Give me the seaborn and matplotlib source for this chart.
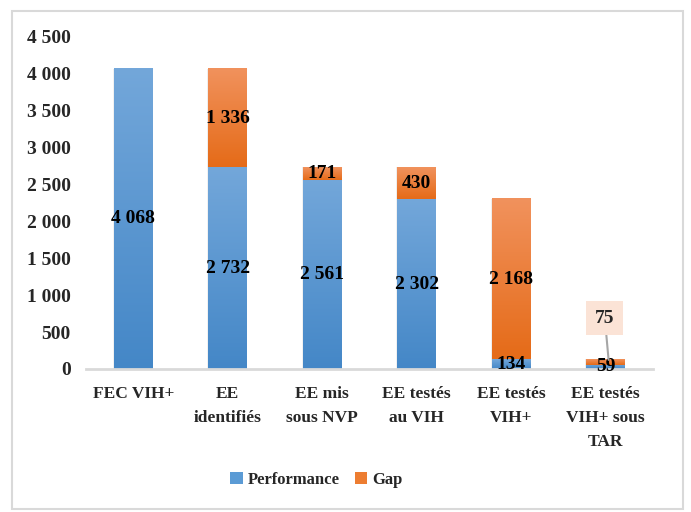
import numpy as np
import pandas as pd
import matplotlib
matplotlib.use("Agg")
import matplotlib.pyplot as plt
from matplotlib.patches import Rectangle, Patch
from matplotlib.colors import LinearSegmentedColormap
import seaborn as sns

# Cascade data
categories = ["FEC VIH+", "EE\nidentifiés", "EE mis\nsous NVP", "EE testés\nau VIH",
              "EE testés\nVIH+", "EE testés\nVIH+ sous\nTAR"]
performance = [4068, 2732, 2561, 2302, 134, 59]
gap = [0, 1336, 171, 430, 2168, 75]
y_ticks = [0, 500, 1000, 1500, 2000, 2500, 3000, 3500, 4000, 4500]
y_tick_labels = ["0", "500", "1 000", "1 500", "2 000", "2 500", "3 000", "3 500", "4 000", "4 500"]

df = pd.DataFrame({"cat": categories, "Performance": performance, "Gap": gap})
df["Total"] = df["Performance"] + df["Gap"]

sns.set_theme(style="white")
plt.rcParams["font.family"] = ["Liberation Serif", "DejaVu Serif"]
plt.rcParams["font.weight"] = "bold"

FS_VAL = 14
FS_TICK = 14
FS_CAT = 12.5
FS_LEG = 12
BLUE = "#5b9bd5"
ORANGE = "#ed7d31"
blue_grad = LinearSegmentedColormap.from_list("b", ["#4487c7", "#73a7da"])
orange_grad = LinearSegmentedColormap.from_list("o", ["#e56b18", "#f1925d"])

fig = plt.figure(figsize=(6.91, 5.12), dpi=100)
ax = fig.add_axes([0.1245, 0.2793, 0.8205, 0.6487])

# Stacked bars: full height in orange, performance in blue on top of it
sns.barplot(data=df, x="cat", y="Total", color=ORANGE, width=0.41, ax=ax,
            saturation=1, zorder=2)
n_gap = len(ax.patches)
sns.barplot(data=df, x="cat", y="Performance", color=BLUE, width=0.41, ax=ax,
            saturation=1, zorder=3)

gap_patches = ax.patches[:n_gap]
perf_patches = ax.patches[n_gap:]

def shade(patch, y0, y1, cmap, z):
    x = patch.get_x()
    w = patch.get_width()
    if y1 - y0 <= 0:
        return
    grad = np.linspace(0, 1, 256).reshape(-1, 1)
    ax.imshow(grad, extent=[x, x + w, y0, y1], origin="lower", cmap=cmap,
              aspect="auto", zorder=z, interpolation="bilinear")
    # soft shadow around the segment
    ax.add_patch(Rectangle((x - 0.012, y0), w + 0.024, y1 - y0,
                           facecolor="#000000", alpha=0.08, edgecolor="none",
                           zorder=1.5))

for i, (pg, pp) in enumerate(zip(gap_patches, perf_patches)):
    p = performance[i]
    g = gap[i]
    shade(pp, 0, p, blue_grad, 4)
    shade(pg, p, p + g, orange_grad, 4)

def fmt(v):
    return f"{v:,}".replace(",", " ")

# Value labels
for i in range(len(categories)):
    p = performance[i]
    g = gap[i]
    ax.text(i, p / 2, fmt(p), ha="center", va="center", fontsize=FS_VAL,
            fontweight="bold", color="black", zorder=6)
    if g > 0 and i != 5:
        ax.text(i, p + g / 2, fmt(g), ha="center", va="center", fontsize=FS_VAL,
                fontweight="bold", color="black", zorder=6)

# Callout for the small gap on the last bar
ax.annotate(fmt(gap[5]), xy=(5.03, performance[5] + gap[5] - 10), xytext=(4.99, 690),
            ha="center", va="center", fontsize=FS_VAL, fontweight="bold", zorder=7,
            bbox=dict(boxstyle="square,pad=0.45", facecolor="#fbe3d6", edgecolor="none"),
            arrowprops=dict(arrowstyle="-", color="#a6a6a6", lw=1.5,
                            shrinkA=0, shrinkB=0))

ax.set_xlim(-0.5, 5.5)
ax.set_ylim(0, 4500)
ax.set_yticks(y_ticks)
ax.set_yticklabels(y_tick_labels, fontsize=FS_TICK, fontweight="bold")
ax.set_xticks(range(len(categories)))
ax.set_xticklabels(categories, fontsize=FS_CAT, fontweight="bold", linespacing=1.7)
ax.tick_params(axis="y", length=0, pad=11)
ax.tick_params(axis="x", length=0, pad=12)
ax.set_xlabel("")
ax.set_ylabel("")
for s in ["top", "right", "left"]:
    ax.spines[s].set_visible(False)
ax.spines["bottom"].set_color("#d9d9d9")
ax.spines["bottom"].set_linewidth(2)
ax.spines["bottom"].set_zorder(5)

handles = [Patch(facecolor=BLUE, edgecolor="none", label="Performance"),
           Patch(facecolor=ORANGE, edgecolor="none", label="Gap")]
fig.legend(handles=handles, loc="center", bbox_to_anchor=(0.458, 0.0625), ncol=2,
           frameon=False, handlelength=0.75, handleheight=0.75,
           handletextpad=0.3, columnspacing=0.9, prop={"weight": "bold", "size": FS_LEG})

# Chart frame
fig.add_artist(Rectangle((12 / 691, 3 / 512), 671 / 691, 498 / 512,
                         transform=fig.transFigure, fill=False,
                         edgecolor="#d9d9d9", linewidth=1.5))

fig.savefig("out.png", dpi=100)
